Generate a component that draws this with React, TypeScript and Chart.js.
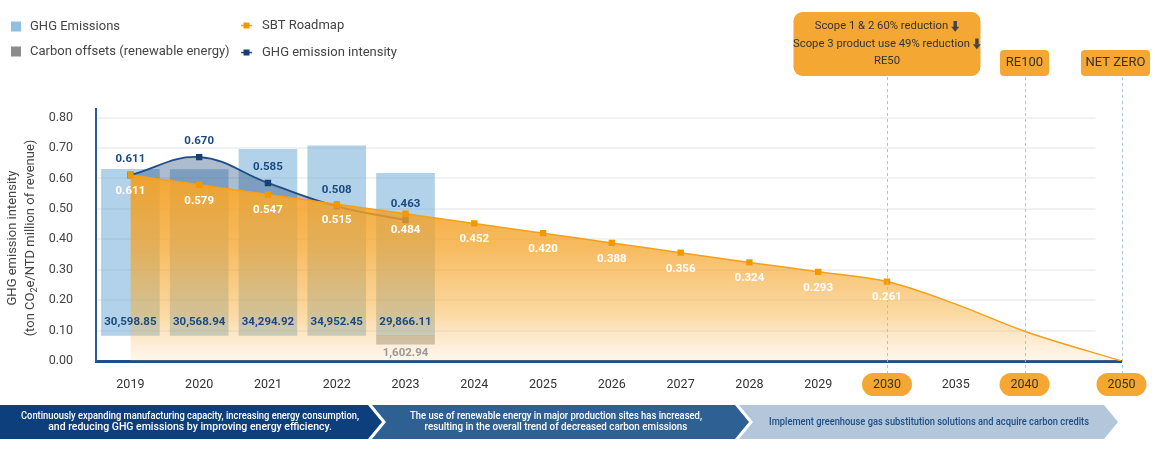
import React, { useEffect, useRef } from 'react';
import { Chart, registerables } from 'chart.js';

Chart.register(...registerables);

// ---------------- DATA ----------------
const yearLabels = ['2019', '2020', '2021', '2022', '2023', '2024', '2025', '2026', '2027', '2028', '2029', '2030', '2035', '2040', '2050'];
const yearAxisPos = [0, 1, 2, 3, 4, 5, 6, 7, 8, 9, 10, 11, 12, 13, 14.41];

const emissionYears = ['2019', '2020', '2021', '2022', '2023'];
const ghgEmissions = [30598.85, 30568.94, 34294.92, 34952.45, 29866.11];

const offsetYears = ['2023'];
const carbonOffsets = [1602.94];

const intensityYears = ['2019', '2020', '2021', '2022', '2023'];
const ghgIntensity = [0.611, 0.67, 0.585, 0.508, 0.463];

const sbtYears = ['2019', '2020', '2021', '2022', '2023', '2024', '2025', '2026', '2027', '2028', '2029', '2030', '2035', '2040', '2050'];
const sbtRoadmap = [0.611, 0.579, 0.547, 0.515, 0.484, 0.452, 0.42, 0.388, 0.356, 0.324, 0.293, 0.261, 0.187, 0.098, 0];
const sbtLastMarkedYear = '2030';

const yTicks = [0, 0.1, 0.2, 0.3, 0.4, 0.5, 0.6, 0.7, 0.8];

const milestoneYears = ['2030', '2040', '2050'];
const milestoneNotes = [
  ['Scope 1 & 2 60% reduction ⬇', 'Scope 3 product use 49% reduction ⬇', 'RE50'],
  ['RE100'],
  ['NET ZERO'],
];

const legendLeft = ['GHG Emissions', 'Carbon offsets (renewable energy)'];
const legendRight = ['SBT Roadmap', 'GHG emission intensity'];

const yTitleLine1 = 'GHG emission intensity';
const yTitleLine2Parts = ['(ton CO', '2', 'e/NTD million of revenue)'];

const phaseTexts = [
  ['Continuously expanding manufacturing capacity, increasing energy consumption,', 'and reducing GHG emissions by improving energy efficiency.'],
  ['The use of renewable energy in major production sites has increased,', 'resulting in the overall trend of decreased carbon emissions'],
  ['Implement greenhouse gas substitution solutions and acquire carbon credits'],
];

// ---------------- STYLE ----------------
const FONT = 'Roboto, "Noto Sans", "DejaVu Sans", sans-serif';
const NAVY = '#1B4A82';
const ORANGE = '#F5A01A';
const ORANGE_MARK = '#F39800';
const PILL = '#F5A733';
const BAR_BLUE = 'rgba(100,165,210,0.5)';
const BAR_GRAY = 'rgba(140,140,140,0.55)';

const posOf = (yr: string) => yearAxisPos[yearLabels.indexOf(yr)];

function roundRectPath(ctx: CanvasRenderingContext2D, x: number, y: number, w: number, h: number, r: number) {
  ctx.beginPath();
  ctx.moveTo(x + r, y);
  ctx.lineTo(x + w - r, y);
  ctx.arcTo(x + w, y, x + w, y + r, r);
  ctx.lineTo(x + w, y + h - r);
  ctx.arcTo(x + w, y + h, x + w - r, y + h, r);
  ctx.lineTo(x + r, y + h);
  ctx.arcTo(x, y + h, x, y + h - r, r);
  ctx.lineTo(x, y + r);
  ctx.arcTo(x, y, x + r, y, r);
  ctx.closePath();
}

function drawDownArrow(ctx: CanvasRenderingContext2D, x: number, yc: number, color: string) {
  ctx.fillStyle = color;
  ctx.fillRect(x + 2.3, yc - 5.5, 3.4, 6);
  ctx.beginPath();
  ctx.moveTo(x, yc + 0.3);
  ctx.lineTo(x + 8, yc + 0.3);
  ctx.lineTo(x + 4, yc + 5.3);
  ctx.closePath();
  ctx.fill();
}

const overlayPlugin = {
  id: 'overlay',
  beforeDraw(chart: any) {
    const ctx: CanvasRenderingContext2D = chart.ctx;
    const xs = chart.scales.x;
    ctx.save();
    milestoneYears.forEach((yr) => {
      const px = xs.getPixelForValue(posOf(yr));
      ctx.fillStyle = PILL;
      roundRectPath(ctx, px - 25, 373, 50, 23, 11.5);
      ctx.fill();
    });
    ctx.restore();
  },
  beforeDatasetsDraw(chart: any) {
    // horizontal grid lines (stop short of the right edge, as in the original)
    const ctx: CanvasRenderingContext2D = chart.ctx;
    const ys = chart.scales.y;
    const area = chart.chartArea;
    ctx.save();
    ctx.strokeStyle = '#ECECEC';
    ctx.lineWidth = 1.5;
    yTicks.forEach((v) => {
      if (v === 0) return;
      const py = Math.round(ys.getPixelForValue(v));
      ctx.beginPath();
      ctx.moveTo(area.left + 1, py);
      ctx.lineTo(area.right - 26, py);
      ctx.stroke();
    });
    ctx.restore();
  },
  afterDatasetsDraw(chart: any) {
    const ctx: CanvasRenderingContext2D = chart.ctx;
    const xs = chart.scales.x;
    ctx.save();
    // dashed milestone lines
    ctx.strokeStyle = 'rgba(150,195,228,0.9)';
    ctx.lineWidth = 1;
    ctx.setLineDash([3, 3]);
    milestoneYears.forEach((yr) => {
      const px = Math.round(xs.getPixelForValue(posOf(yr))) + 0.5;
      ctx.beginPath();
      ctx.moveTo(px, 77);
      ctx.lineTo(px, 373);
      ctx.stroke();
    });
    ctx.setLineDash([]);

    ctx.textAlign = 'center';
    ctx.textBaseline = 'middle';
    ctx.font = `bold 11.5px ${FONT}`;

    // bar labels
    const barMeta = chart.getDatasetMeta(0);
    barMeta.data.forEach((el: any, i: number) => {
      ctx.fillStyle = NAVY;
      ctx.fillText(ghgEmissions[i].toLocaleString('en-US', { minimumFractionDigits: 2, maximumFractionDigits: 2 }), el.x, el.base - 13);
    });
    const offMeta = chart.getDatasetMeta(1);
    offMeta.data.forEach((el: any, i: number) => {
      ctx.fillStyle = '#9A9A9A';
      ctx.fillText(carbonOffsets[i].toLocaleString('en-US', { minimumFractionDigits: 2, maximumFractionDigits: 2 }), el.x, el.y + 9);
    });

    // intensity labels (above)
    const blueMeta = chart.getDatasetMeta(2);
    blueMeta.data.forEach((el: any, i: number) => {
      ctx.fillStyle = NAVY;
      ctx.fillText(ghgIntensity[i].toFixed(3), el.x, el.y - 16);
    });
    // SBT labels (below)
    const orMeta = chart.getDatasetMeta(3);
    const lastIdx = sbtYears.indexOf(sbtLastMarkedYear);
    orMeta.data.forEach((el: any, i: number) => {
      if (i > lastIdx) return;
      ctx.fillStyle = '#FFFFFF';
      ctx.fillText(sbtRoadmap[i].toFixed(3), el.x, el.y + 16);
    });
    ctx.restore();
  },
  afterDraw(chart: any) {
    const ctx: CanvasRenderingContext2D = chart.ctx;
    const xs = chart.scales.x;
    const W = chart.width;
    ctx.save();

    // callouts
    const boxes = [
      { w: 187, top: 12, h: 64, size: 11.3 },
      { w: 49, top: 50, h: 26, size: 13 },
      { w: 69, top: 50, h: 26, size: 13 },
    ];
    milestoneYears.forEach((yr, k) => {
      const b = boxes[k];
      const cx = xs.getPixelForValue(posOf(yr));
      let left = cx - b.w / 2;
      if (left + b.w > W - 5) left = W - 5 - b.w;
      ctx.fillStyle = PILL;
      roundRectPath(ctx, left, b.top, b.w, b.h, k === 0 ? 9 : 4);
      ctx.fill();
      const lines = milestoneNotes[k];
      const mid = left + b.w / 2;
      const lh = lines.length > 1 ? 17.5 : 0;
      const y0 = b.top + b.h / 2 - ((lines.length - 1) * lh) / 2;
      ctx.font = `${b.size}px ${FONT}`;
      ctx.textBaseline = 'middle';
      lines.forEach((ln, j) => {
        const y = y0 + j * lh;
        const hasArrow = ln.endsWith('⬇');
        const t = hasArrow ? ln.replace(/\s*⬇$/, '') : ln;
        const tw = ctx.measureText(t).width;
        const total = tw + (hasArrow ? 11 : 0);
        const sx = mid - total / 2;
        ctx.fillStyle = '#333333';
        ctx.textAlign = 'left';
        ctx.fillText(t, sx, y);
        if (hasArrow) drawDownArrow(ctx, sx + tw + 3, y, '#444444');
      });
    });

    // legend
    ctx.font = `13px ${FONT}`;
    ctx.textAlign = 'left';
    ctx.textBaseline = 'middle';
    ctx.fillStyle = '#8EC0E0';
    ctx.fillRect(11, 21.5, 10, 10);
    ctx.fillStyle = '#8C8C8C';
    ctx.fillRect(11, 46.5, 10, 10);
    ctx.fillStyle = '#444444';
    ctx.fillText(legendLeft[0], 30, 27);
    ctx.fillText(legendLeft[1], 30, 52);
    ctx.strokeStyle = ORANGE;
    ctx.lineWidth = 1.5;
    ctx.beginPath();
    ctx.moveTo(241, 25.5);
    ctx.lineTo(252, 25.5);
    ctx.stroke();
    ctx.fillStyle = ORANGE_MARK;
    ctx.fillRect(243.5, 22.5, 6, 6);
    ctx.strokeStyle = '#1F4E85';
    ctx.beginPath();
    ctx.moveTo(241, 52.5);
    ctx.lineTo(252, 52.5);
    ctx.stroke();
    ctx.fillStyle = '#153F76';
    ctx.fillRect(243.5, 49.5, 6, 6);
    ctx.fillStyle = '#444444';
    ctx.fillText(legendRight[0], 262, 26);
    ctx.fillText(legendRight[1], 262, 52.5);

    // y-axis title
    ctx.save();
    ctx.translate(13, 238);
    ctx.rotate(-Math.PI / 2);
    ctx.font = `13px ${FONT}`;
    ctx.textAlign = 'center';
    ctx.fillStyle = '#444444';
    ctx.fillText(yTitleLine1, 0, 0);
    ctx.restore();
    ctx.save();
    ctx.translate(31, 238);
    ctx.rotate(-Math.PI / 2);
    ctx.fillStyle = '#444444';
    ctx.textAlign = 'left';
    ctx.textBaseline = 'middle';
    const mainF = `13px ${FONT}`;
    const subF = `9px ${FONT}`;
    ctx.font = mainF;
    const w1 = ctx.measureText(yTitleLine2Parts[0]).width;
    const w3 = ctx.measureText(yTitleLine2Parts[2]).width;
    ctx.font = subF;
    const w2 = ctx.measureText(yTitleLine2Parts[1]).width;
    let sx = -(w1 + w2 + w3) / 2;
    ctx.font = mainF;
    ctx.fillText(yTitleLine2Parts[0], sx, 0);
    sx += w1;
    ctx.font = subF;
    ctx.fillText(yTitleLine2Parts[1], sx, 4);
    sx += w2;
    ctx.font = mainF;
    ctx.fillText(yTitleLine2Parts[2], sx, 0);
    ctx.restore();

    // phase bands
    const top = 405, bot = 439, midY = (top + bot) / 2;
    const bands = [
      { l: 0, r: 368, notch: false, color: '#0D3F7D', text: '#FFFFFF', cx: 190, maxW: 338 },
      { l: 372, r: 735, notch: true, color: '#2E6094', text: '#FFFFFF', cx: 556, maxW: 292 },
      { l: 739, r: 1104, notch: true, color: '#B3C6DA', text: '#1F4E85', cx: 929, maxW: 320 },
    ];
    const tip = 14;
    bands.forEach((b, k) => {
      ctx.fillStyle = b.color;
      ctx.beginPath();
      ctx.moveTo(b.l, top);
      ctx.lineTo(b.r, top);
      ctx.lineTo(b.r + tip, midY);
      ctx.lineTo(b.r, bot);
      ctx.lineTo(b.l, bot);
      if (b.notch) ctx.lineTo(b.l + tip, midY);
      ctx.closePath();
      ctx.fill();
      const lines = phaseTexts[k];
      ctx.fillStyle = b.text;
      ctx.textAlign = 'center';
      ctx.textBaseline = 'middle';
      ctx.font = `500 10.5px ${FONT}`;
      const lh = 11;
      const y0 = midY - ((lines.length - 1) * lh) / 2;
      lines.forEach((ln, j) => {
        const w = ctx.measureText(ln).width;
        ctx.fillText(ln, b.cx, y0 + j * lh, Math.min(w, j === 0 ? b.maxW : b.maxW * 0.9));
      });
    });

    ctx.restore();
  },
};

export default function App() {
  const canvasRef = useRef<HTMLCanvasElement | null>(null);

  useEffect(() => {
    document.body.style.margin = '0';
    const canvas = canvasRef.current;
    if (!canvas) return;
    const lastIdx = sbtYears.indexOf(sbtLastMarkedYear);

    const chart = new Chart(canvas, {
      type: 'line',
      data: {
        datasets: [
          {
            type: 'bar',
            label: legendLeft[0],
            data: emissionYears.map((yr, i) => ({ x: posOf(yr), y: ghgEmissions[i] })),
            yAxisID: 'y2',
            backgroundColor: BAR_BLUE,
            barThickness: 58,
            grouped: false,
            order: 5,
          } as any,
          {
            type: 'bar',
            label: legendLeft[1],
            data: offsetYears.map((yr, i) => ({ x: posOf(yr), y: -carbonOffsets[i] })),
            yAxisID: 'y2',
            backgroundColor: BAR_GRAY,
            barThickness: 58,
            grouped: false,
            order: 5,
          } as any,
          {
            type: 'line',
            label: legendRight[1],
            data: intensityYears.map((yr, i) => ({ x: posOf(yr), y: ghgIntensity[i] })),
            yAxisID: 'y',
            borderColor: '#1F4E85',
            borderWidth: 1.8,
            tension: 0.4,
            pointStyle: 'rect',
            pointRadius: 4.5,
            pointBackgroundColor: '#153F76',
            pointBorderWidth: 0,
            fill: { target: 3, above: 'rgba(30,70,125,0.36)', below: 'rgba(0,0,0,0)' },
            order: 3,
          } as any,
          {
            type: 'line',
            label: legendRight[0],
            data: sbtYears.map((yr, i) => ({ x: posOf(yr), y: sbtRoadmap[i] })),
            yAxisID: 'y',
            borderColor: ORANGE,
            borderWidth: 1.5,
            cubicInterpolationMode: 'monotone',
            pointStyle: 'rect',
            pointRadius: sbtRoadmap.map((_, i) => (i <= lastIdx ? 4.5 : 0)),
            pointBackgroundColor: ORANGE_MARK,
            pointBorderWidth: 0,
            fill: 'origin',
            backgroundColor: (c: any) => {
              const ch = c.chart;
              const area = ch.chartArea;
              if (!area) return 'rgba(245,165,50,0.5)';
              const g = ch.ctx.createLinearGradient(0, ch.scales.y.getPixelForValue(0.62), 0, area.bottom);
              g.addColorStop(0, 'rgba(243,158,30,0.92)');
              g.addColorStop(0.4, 'rgba(244,163,40,0.74)');
              g.addColorStop(0.75, 'rgba(246,175,60,0.48)');
              g.addColorStop(1, 'rgba(249,195,120,0.14)');
              return g;
            },
            order: 1,
          } as any,
        ],
      },
      options: {
        responsive: false,
        animation: false,
        events: [],
        layout: { padding: { top: 109, right: 33.5, left: 0, bottom: 0 } },
        plugins: {
          legend: { display: false },
          tooltip: { enabled: false },
        },
        scales: {
          x: {
            type: 'linear',
            min: -0.5,
            max: 14.41,
            offset: false,
            z: 1,
            afterBuildTicks: (scale: any) => {
              scale.ticks = yearAxisPos.map((v) => ({ value: v }));
            },
            afterFit: (scale: any) => {
              scale.height = 89;
            },
            ticks: {
              autoSkip: false,
              maxRotation: 0,
              padding: 16,
              color: '#333333',
              font: { family: FONT, size: 12.5 },
              callback: (_v: any, i: number) => yearLabels[i],
            },
            grid: { drawOnChartArea: false, drawTicks: false },
            border: { display: true, color: '#1F4E8C', width: 3 },
          },
          y: {
            type: 'linear',
            position: 'left',
            min: 0,
            max: 0.828,
            afterBuildTicks: (scale: any) => {
              scale.ticks = yTicks.map((v) => ({ value: v }));
            },
            afterFit: (scale: any) => {
              scale.width = 96;
            },
            ticks: {
              padding: 23,
              color: '#444444',
              font: { family: FONT, size: 12.5 },
              callback: (v: any) => Number(v).toFixed(2),
            },
            grid: { drawOnChartArea: false, drawTicks: false },
            border: { display: true, color: '#2A5B94', width: 2 },
          },
          y2: {
            type: 'linear',
            display: false,
            min: -4696,
            max: 41713,
          },
        },
      } as any,
      plugins: [overlayPlugin],
    });

    return () => chart.destroy();
  }, []);

  return (
    <div style={{ width: 1155, height: 450, position: 'relative', background: '#FFFFFF' }}>
      <canvas ref={canvasRef} width={1155} height={450} style={{ display: 'block' }} />
    </div>
  );
}
